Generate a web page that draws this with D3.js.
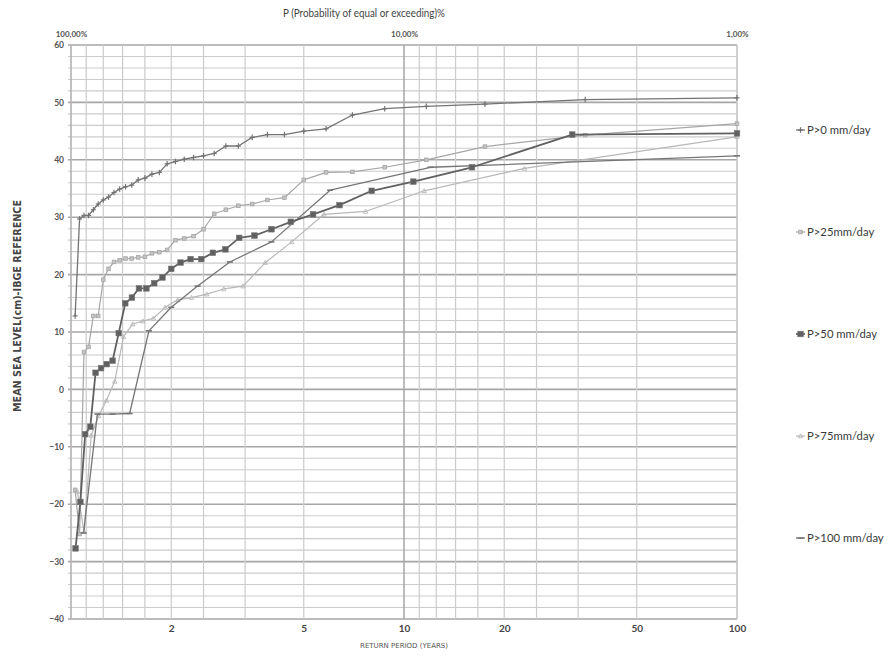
<!DOCTYPE html>
<html>
<head>
<meta charset="utf-8">
<script src="https://cdn.jsdelivr.net/npm/d3@7"></script>
<style>
  html, body { margin: 0; padding: 0; background: #fff; }
  svg { display: block; }
  text { font-family: Lato, "Open Sans", sans-serif; }
</style>
</head>
<body>
<svg id="chart" width="888" height="661"></svg>
<script>
// ---------------- DATA ----------------
const seriesNames = ["P>0 mm/day", "P>25mm/day", "P>50 mm/day", "P>75mm/day", "P>100 mm/day"];

// return periods (years) and mean sea level (cm) for each series
const p0T = [1.029,1.061,1.094,1.129,1.167,1.207,1.25,1.296,1.346,1.4,1.458,1.522,1.591,1.667,1.75,1.842,1.944,2.059,2.188,2.333,2.5,2.692,2.917,3.182,3.5,3.889,4.375,5,5.833,7,8.75,11.667,17.5,35,100];
const p0V = [12.8,29.7,30.3,30.3,31.3,32.3,33.0,33.5,34.3,34.9,35.3,35.6,36.5,36.8,37.5,37.8,39.3,39.7,40.1,40.4,40.7,41.1,42.4,42.4,43.9,44.4,44.4,45.0,45.4,47.8,48.9,49.3,49.7,50.5,50.8];

const p25T = [1.029,1.061,1.094,1.129,1.167,1.207,1.25,1.296,1.346,1.4,1.458,1.522,1.591,1.667,1.75,1.842,1.944,2.059,2.188,2.333,2.5,2.692,2.917,3.182,3.5,3.889,4.375,5,5.833,7,8.75,11.667,17.5,35,100];
const p25V = [-17.5,-25.2,6.5,7.4,12.8,12.8,19.1,21.0,22.2,22.5,22.8,22.8,23.0,23.1,23.7,23.9,24.3,26.0,26.3,26.7,27.9,30.6,31.3,32.0,32.3,33.0,33.4,36.5,37.8,37.9,38.7,40.0,42.3,44.3,46.3];

const p50T = [1.032,1.067,1.103,1.143,1.185,1.231,1.28,1.333,1.391,1.455,1.524,1.6,1.684,1.778,1.882,2,2.133,2.286,2.462,2.667,2.909,3.2,3.556,4,4.571,5.333,6.4,8,10.667,16,32,100];
const p50V = [-27.7,-19.6,-7.8,-6.5,2.9,3.7,4.4,5.0,9.8,15.0,16.0,17.6,17.6,18.5,19.5,21.0,22.1,22.7,22.7,23.8,24.4,26.4,26.8,27.9,29.2,30.5,32.1,34.6,36.2,38.7,44.4,44.6];

const p75T = [1.045,1.095,1.15,1.211,1.278,1.353,1.438,1.533,1.643,1.769,1.917,2.091,2.3,2.556,2.875,3.286,3.833,4.6,5.75,7.667,11.5,23,100];
const p75V = [-17.8,-24.8,-8.0,-4.6,-1.9,1.4,9.2,11.4,11.9,12.4,14.3,15.6,16.0,16.6,17.5,18.0,22.1,25.7,30.5,31.0,34.6,38.5,44.0];

const p100T = [1.091,1.2,1.333,1.5,1.714,2,2.4,3,4,6,12,100];
const p100V = [-25.0,-4.3,-4.3,-4.2,10.2,14.3,18.0,22.2,25.7,34.7,38.7,40.7];

const yTicks = [60,50,40,30,20,10,0,-10,-20,-30,-40];
const xTickValues = [2,5,10,20,50,100];
const topTickValues = [1,10,100];
const topTickLabels = ["100,00%","10,00%","1,00%"];
const probGrid = [100,90,80,70,60,50,40,30,20,10,9,8,7,6,5,4,3,2,1];

// ---------------- LAYOUT ----------------
const svg = d3.select("#chart");
const mLeft = 71, mRight = 737, mTop = 45, mBottom = 619;

const x = d3.scaleLog().domain([1,100]).range([mLeft, mRight]);
const y = d3.scaleLinear().domain([-40,60]).range([mBottom, mTop]);

// horizontal gridlines every 2 units
const grid = svg.append("g");
grid.selectAll("line.h").data(d3.range(-40, 61, 2)).join("line")
  .attr("x1", mLeft - 3).attr("x2", mRight)
  .attr("y1", d => y(d)).attr("y2", d => y(d))
  .attr("stroke", d => d % 10 === 0 ? "#a6a6a6" : "#cbcbcb")
  .attr("stroke-width", d => d % 10 === 0 ? 1.6 : 1.1);

// vertical gridlines at probabilities
grid.selectAll("line.v").data(probGrid).join("line")
  .attr("x1", d => x(100/d)).attr("x2", d => x(100/d))
  .attr("y1", mTop).attr("y2", mBottom)
  .attr("stroke", d => (d === 10) ? "#a6a6a6" : "#cbcbcb")
  .attr("stroke-width", d => (d === 10) ? 1.5 : 1.2);

// axes lines
svg.append("line").attr("x1", mLeft).attr("x2", mLeft).attr("y1", mTop).attr("y2", mBottom)
  .attr("stroke", "#b0b0b0").attr("stroke-width", 1.3);
svg.append("line").attr("x1", mRight).attr("x2", mRight).attr("y1", mTop).attr("y2", mBottom)
  .attr("stroke", "#c4c4c4").attr("stroke-width", 1.2);

// y axis labels
const yAxis = d3.axisLeft(y).tickValues(yTicks).tickSize(0).tickPadding(7);
const gy = svg.append("g").attr("transform", `translate(${mLeft},0)`).call(yAxis);
gy.select(".domain").remove();
gy.selectAll("text").attr("font-size", 8.5).attr("font-weight", "bold").attr("fill", "#555")
  .style("font-family", "Lato, sans-serif");

// bottom axis
const xAxis = d3.axisBottom(x).tickValues(xTickValues).tickFormat(d3.format("d")).tickSize(0).tickPadding(6);
const gx = svg.append("g").attr("transform", `translate(0,${mBottom})`).call(xAxis);
gx.select(".domain").remove();
gx.selectAll("text").attr("font-size", 10).attr("font-weight", "bold").attr("fill", "#444")
  .style("font-family", "Lato, sans-serif");

// top axis (probability)
const tAxis = d3.axisTop(x).tickValues(topTickValues).tickFormat((d, i) => topTickLabels[i]).tickSize(0).tickPadding(8);
const gt = svg.append("g").attr("transform", `translate(0,${mTop})`).call(tAxis);
gt.select(".domain").remove();
gt.selectAll("text").attr("font-size", 8).attr("font-weight", "bold").attr("fill", "#555")
  .style("font-family", "Lato, sans-serif");

// titles
svg.append("text").attr("x", 364).attr("y", 17).attr("text-anchor", "middle")
  .attr("font-size", 11.5).attr("fill", "#444")
  .attr("textLength", 162).attr("lengthAdjust", "spacingAndGlyphs")
  .text("P (Probability of equal or exceeding)%");
svg.append("text").attr("x", 404).attr("y", 648).attr("text-anchor", "middle")
  .attr("font-size", 7).attr("fill", "#555")
  .style("font-family", "'DejaVu Sans', sans-serif")
  .text("RETURN PERIOD (YEARS)");
svg.append("text").attr("transform", "translate(21,306) rotate(-90)").attr("text-anchor", "middle")
  .attr("font-size", 10).attr("font-weight", "bold").attr("fill", "#444")
  .style("font-family", "'DejaVu Sans', sans-serif")
  .attr("textLength", 212).attr("lengthAdjust", "spacingAndGlyphs")
  .text("MEAN SEA LEVEL(cm)-IBGE REFERENCE");

// ---------------- SERIES ----------------
const series = [
  { name: seriesNames[0], T: p0T, V: p0V, color: "#737373", width: 1.3, marker: "plus" },
  { name: seriesNames[1], T: p25T, V: p25V, color: "#a6a6a6", width: 1.2, marker: "square-small" },
  { name: seriesNames[2], T: p50T, V: p50V, color: "#606060", width: 1.8, marker: "square" },
  { name: seriesNames[3], T: p75T, V: p75V, color: "#b8b8b8", width: 1.2, marker: "tri" },
  { name: seriesNames[4], T: p100T, V: p100V, color: "#757575", width: 1.3, marker: "dash" }
];

function drawMarker(g, type, color, cx, cy) {
  if (type === "plus") {
    g.append("line").attr("x1", cx - 2.5).attr("x2", cx + 2.5).attr("y1", cy).attr("y2", cy).attr("stroke", color).attr("stroke-width", 1.2);
    g.append("line").attr("x1", cx).attr("x2", cx).attr("y1", cy - 2.8).attr("y2", cy + 2.8).attr("stroke", color).attr("stroke-width", 1.2);
  } else if (type === "square-small") {
    g.append("rect").attr("x", cx - 1.8).attr("y", cy - 1.8).attr("width", 3.6).attr("height", 3.6)
      .attr("fill", "#c4c4c4").attr("stroke", color).attr("stroke-width", 0.8);
  } else if (type === "square") {
    g.append("rect").attr("x", cx - 2.8).attr("y", cy - 2.8).attr("width", 5.6).attr("height", 5.6)
      .attr("fill", color).attr("stroke", "#777").attr("stroke-width", 0.6);
  } else if (type === "tri") {
    g.append("path").attr("d", `M${cx - 2.2},${cy + 1.8}L${cx},${cy - 2.2}L${cx + 2.2},${cy + 1.8}Z`)
      .attr("fill", "none").attr("stroke", color).attr("stroke-width", 0.9);
  } else if (type === "dash") {
    g.append("line").attr("x1", cx - 3).attr("x2", cx + 3).attr("y1", cy).attr("y2", cy).attr("stroke", color).attr("stroke-width", 1.6);
  }
}

const line = d3.line().x(d => x(d[0])).y(d => y(d[1]));
const draw = [series[3], series[1], series[4], series[0], series[2]];
draw.forEach(s => {
  const pts = s.T.map((t, i) => [t, s.V[i]]);
  const g = svg.append("g");
  g.append("path").datum(pts).attr("d", line).attr("fill", "none")
    .attr("stroke", s.color).attr("stroke-width", s.width).attr("stroke-linejoin", "round");
  pts.forEach(p => drawMarker(g, s.marker, s.color, x(p[0]), y(p[1])));
});

// ---------------- LEGEND ----------------
const legendY = [130, 232, 334, 436, 538];
series.forEach((s, i) => {
  const g = svg.append("g");
  const ly = legendY[i];
  g.append("line").attr("x1", 796).attr("x2", 805).attr("y1", ly).attr("y2", ly)
    .attr("stroke", s.color).attr("stroke-width", s.width);
  drawMarker(g, s.marker, s.color, 800.5, ly);
  g.append("text").attr("x", 807).attr("y", ly + 4).attr("font-size", 11.3).attr("fill", "#3a3a3a")
    .text(s.name);
});
</script>
</body>
</html>
